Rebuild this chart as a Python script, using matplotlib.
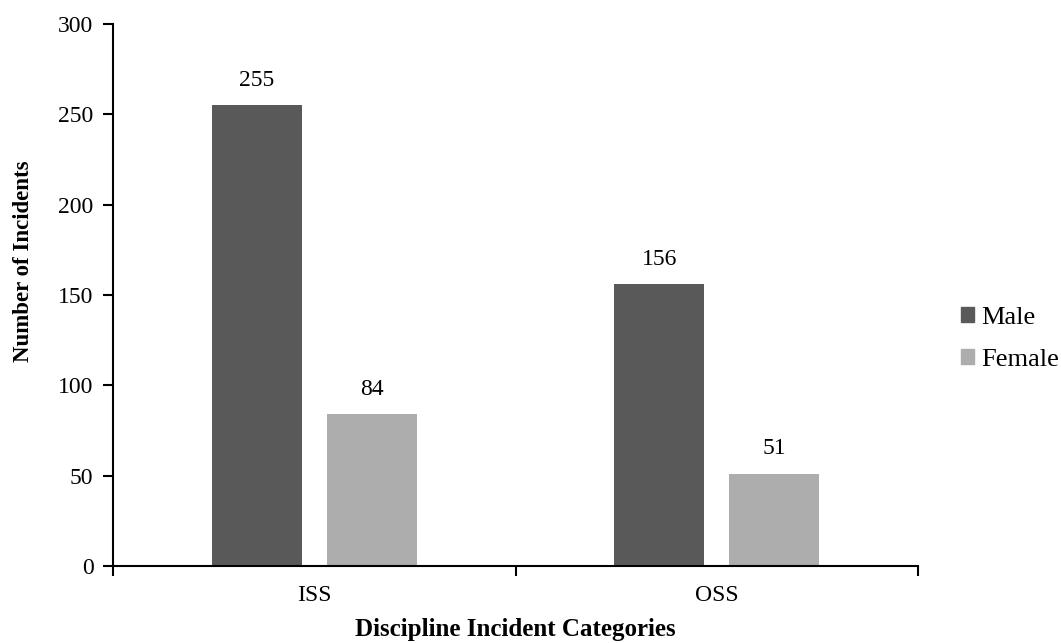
import matplotlib
matplotlib.use("Agg")
import matplotlib.pyplot as plt
import numpy as np
from matplotlib.patches import Patch

categories = ["ISS", "OSS"]
male = [255, 156]
female = [84, 51]
series_names = ["Male", "Female"]
colors = ["#595959", "#ADADAD"]

plt.rcParams["font.family"] = ["Liberation Serif", "DejaVu Serif"]

W, H = 1061, 643
fig = plt.figure(figsize=(W / 100, H / 100), dpi=100)
ax = fig.add_axes([113 / W, 1 - 566 / H, (918 - 113) / W, (566 - 24) / H])

x = np.arange(len(categories))
width = 0.224
offset = 0.143
for vals, name, col, sign in [(male, series_names[0], colors[0], -1),
                              (female, series_names[1], colors[1], 1)]:
    bars = ax.bar(x + sign * offset, vals, width, color=col, label=name)
    for b, v in zip(bars, vals):
        ax.text(b.get_x() + b.get_width() / 2, v + 8, str(v),
                ha="center", va="bottom", fontsize=17)

ax.set_xlim(-0.5, len(categories) - 0.5)
ax.set_ylim(0, 300)
ax.set_yticks(range(0, 301, 50))
ax.set_xticks(x)
ax.set_xticklabels(categories, fontsize=17)
ax.set_xticks([-0.5, 0.5, 1.5], minor=True)
ax.tick_params(axis="x", which="major", length=0, pad=14)
ax.tick_params(axis="x", which="minor", length=7, width=1.5, direction="out")
ax.tick_params(axis="y", labelsize=17, length=7, width=1.5, direction="out", pad=7)

for s in ["top", "right"]:
    ax.spines[s].set_visible(False)
for s in ["left", "bottom"]:
    ax.spines[s].set_linewidth(1.5)

ax.set_ylabel("Number of Incidents", fontsize=16.5, fontweight="bold")
ax.yaxis.set_label_coords((34 - 113) / 805, (566 - 261) / 542)
ax.set_xlabel("Discipline Incident Categories", fontsize=18, fontweight="bold",
              va="baseline")
ax.xaxis.set_label_coords(0.5, (566 - 636) / 542)

handles = [Patch(color=c, label=n) for c, n in zip(colors, series_names)]
fig.legend(handles=handles, loc="center left", bbox_to_anchor=(961 / W, 1 - 339 / H),
           frameon=False, fontsize=19, handlelength=0.5, handleheight=0.5,
           handletextpad=0.25, labelspacing=0.75, borderaxespad=0, borderpad=0)

fig.savefig("out.png", dpi=100)
